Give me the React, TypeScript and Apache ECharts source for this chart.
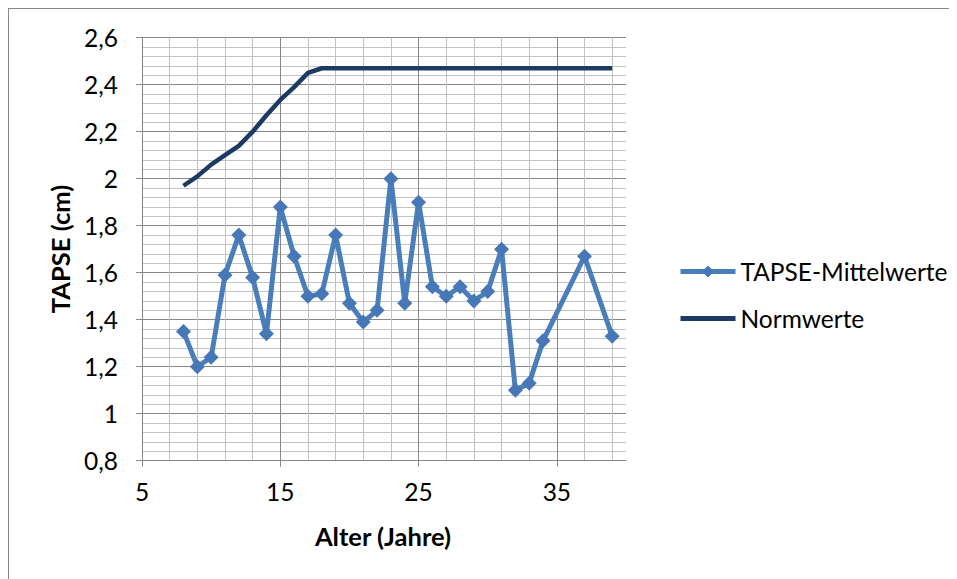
import React, { useEffect, useRef } from "react";
import * as echarts from "echarts";

const ages: number[] = [8, 9, 10, 11, 12, 13, 14, 15, 16, 17, 18, 19, 20, 21, 22, 23, 24, 25, 26, 27, 28, 29, 30, 31, 32, 33, 34, 37, 39];
const tapseMeans: number[] = [1.35, 1.2, 1.24, 1.59, 1.76, 1.58, 1.34, 1.88, 1.67, 1.5, 1.51, 1.76, 1.47, 1.39, 1.44, 2.0, 1.47, 1.9, 1.54, 1.5, 1.54, 1.48, 1.52, 1.7, 1.1, 1.13, 1.31, 1.67, 1.33];
const normAges: number[] = [8, 9, 10, 11, 12, 13, 14, 15, 16, 17, 18, 39];
const normValues: number[] = [1.97, 2.01, 2.06, 2.1, 2.14, 2.2, 2.27, 2.335, 2.39, 2.45, 2.47, 2.47];
const xTickLabels: number[] = [5, 15, 25, 35];
const seriesNames: string[] = ["TAPSE-Mittelwerte", "Normwerte"];
const xTitle = "Alter (Jahre)";
const yTitle = "TAPSE (cm)";

const FONT = "Lato";
const MAJOR = "#878787";
const MINOR = "#c3c3c3";

export default function App() {
  const ref = useRef<HTMLDivElement>(null);
  useEffect(() => {
    document.body.style.overflow = "hidden";
    document.documentElement.style.overflow = "hidden";
    const chart = echarts.init(ref.current!, undefined, { renderer: "svg" });
    const gridLeft = 133;
    const gridTop = 28.7;
    const gridWidth = 484;
    const gridHeight = 423;
    const hiddenAxis = {
      axisLine: { show: false },
      axisTick: { show: false },
      axisLabel: { show: false },
    };
    chart.setOption({
      animation: false,
      backgroundColor: "#ffffff",
      textStyle: { fontFamily: FONT },
      grid: { left: gridLeft, top: gridTop, width: gridWidth, height: gridHeight, outerBoundsMode: "none" },
      legend: {
        orient: "vertical",
        left: 664,
        top: 245,
        itemWidth: 55,
        itemHeight: 15,
        itemGap: 22,
        lineStyle: { width: 5 },
        textStyle: { fontFamily: FONT, fontSize: 24.5, color: "#000" },
        data: [
          { name: seriesNames[0] },
          { name: seriesNames[1], itemStyle: { opacity: 0 } },
        ],
      },
      xAxis: [
        {
          type: "value",
          min: 5,
          max: 40,
          interval: 10,
          axisLine: { show: true, lineStyle: { color: MAJOR, width: 1 } },
          axisTick: { show: true, length: 6, lineStyle: { color: MAJOR }, customValues: xTickLabels },
          axisLabel: { customValues: xTickLabels, fontFamily: FONT, fontSize: 24.5, color: "#000", margin: 18 },
          splitLine: { show: false },
        },
        {
          type: "value",
          min: 5,
          max: 40,
          interval: 2,
          ...hiddenAxis,
          splitLine: { show: true, showMinLine: false, showMaxLine: false, lineStyle: { color: MINOR, width: 1 } },
        },
        {
          type: "value",
          min: 5,
          max: 40,
          interval: 10,
          ...hiddenAxis,
          splitLine: { show: true, showMinLine: false, showMaxLine: false, lineStyle: { color: MAJOR, width: 1 } },
        },
      ],
      yAxis: {
        type: "value",
        min: 0.8,
        max: 2.6,
        interval: 0.2,
        axisLine: { show: true, lineStyle: { color: MAJOR, width: 1 } },
        axisTick: { show: true, length: 6, lineStyle: { color: MAJOR } },
        axisLabel: {
          fontFamily: FONT,
          fontSize: 24.5,
          color: "#000",
          margin: 24,
          formatter: (v: number) => String(Math.round(v * 10) / 10).replace(".", ","),
        },
        splitLine: { show: true, lineStyle: { color: MAJOR, width: 1 } },
        minorTick: { show: false, splitNumber: 5 },
        minorSplitLine: { show: true, lineStyle: { color: MINOR, width: 1 } },
      },
      series: [
        {
          name: seriesNames[0],
          type: "line",
          xAxisIndex: 0,
          data: ages.map((a, i) => [a, tapseMeans[i]]),
          symbol: "diamond",
          symbolSize: 15,
          lineStyle: { color: "#4a7ebb", width: 5 },
          itemStyle: { color: "#4677b6" },
          z: 4,
        },
        {
          name: seriesNames[1],
          type: "line",
          xAxisIndex: 0,
          data: normAges.map((a, i) => [a, normValues[i]]),
          symbol: "none",
          lineStyle: { color: "#1c3a63", width: 4.5 },
          itemStyle: { color: "#1c3a63" },
          z: 3,
        },
      ],
      graphic: [
        {
          type: "text",
          x: 51,
          y: 240,
          rotation: Math.PI / 2,
          style: {
            text: yTitle,
            fontFamily: FONT,
            fontSize: 25.5,
            fontWeight: "bold",
            fill: "#000",
            align: "center",
            verticalAlign: "middle",
          },
        },
        {
          type: "text",
          x: 374,
          y: 527,
          style: {
            text: xTitle,
            fontFamily: FONT,
            fontSize: 25.5,
            fontWeight: "bold",
            fill: "#000",
            align: "center",
            verticalAlign: "middle",
          },
        },
      ],
    });
    return () => chart.dispose();
  }, []);
  return (
    <div
      ref={ref}
      style={{
        width: 949,
        height: 571,
        boxSizing: "border-box",
        borderTop: "1px solid #868686",
        borderLeft: "1px solid #868686",
      }}
    />
  );
}
